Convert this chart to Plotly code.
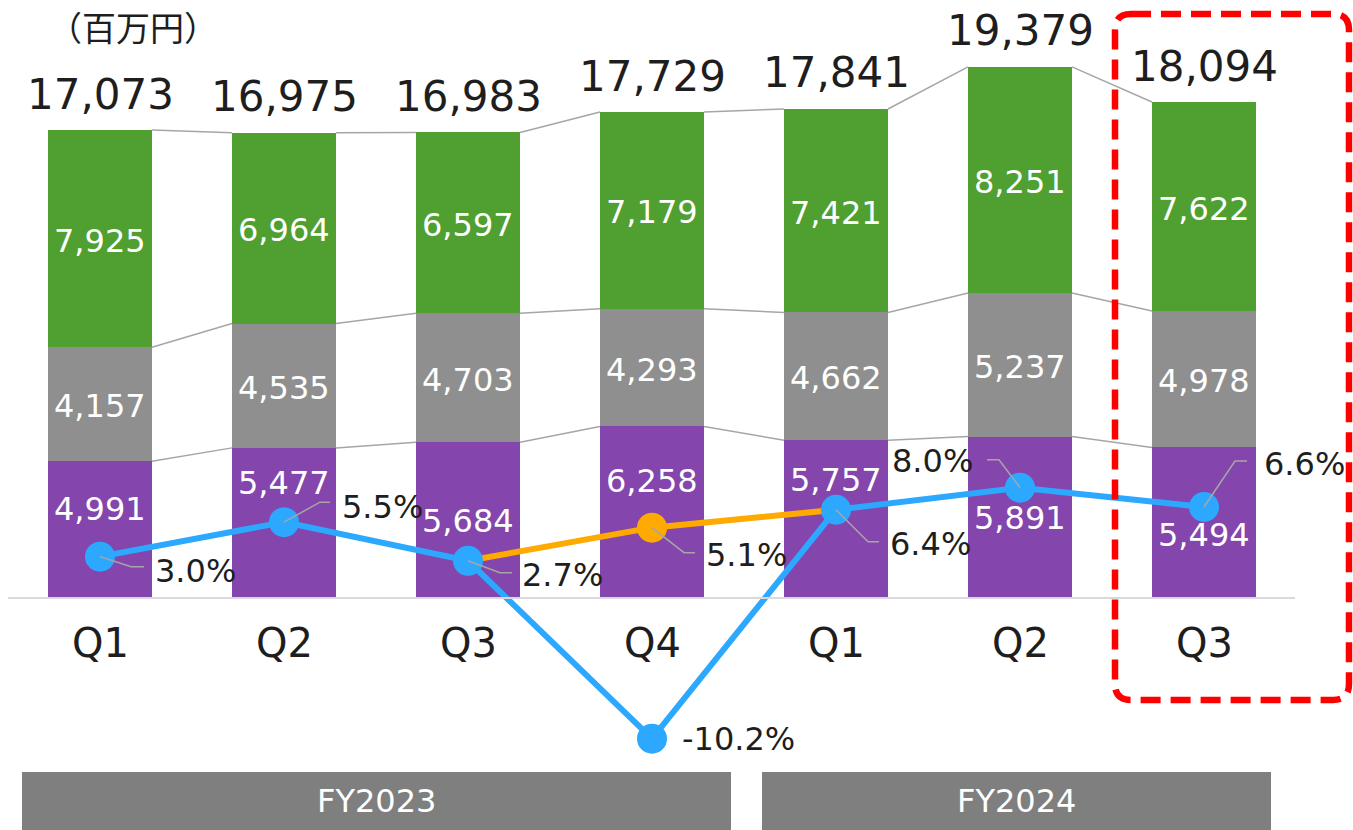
import plotly.graph_objects as go

# ---------------- data ----------------
quarters = ["Q1", "Q2", "Q3", "Q4", "Q1", "Q2", "Q3"]
seg_purple = [4991, 5477, 5684, 6258, 5757, 5891, 5494]
seg_gray = [4157, 4535, 4703, 4293, 4662, 5237, 4978]
seg_green = [7925, 6964, 6597, 7179, 7421, 8251, 7622]
totals = [17073, 16975, 16983, 17729, 17841, 19379, 18094]
margin_pct = [3.0, 5.5, 2.7, -10.2, 6.4, 8.0, 6.6]
adj_idx = [2, 3, 4]
adj_pct = [2.7, 5.1, 6.4]
fiscal_years = ["FY2023", "FY2024"]
unit_label = "（百万円）"

# ---------------- geometry (layout only) ----------------
W, H = 1353, 830
BASE_PX = 598          # pixel row of value 0
K = 0.02741            # px per 百万円
P = 13.79              # px per %
X0_PX, STEP = 100, 184 # first category centre, spacing
BAR_W = 104 / STEP

Y_RANGE = [-(H - BASE_PX) / K, BASE_PX / K]
Y2_RANGE = [-(H - BASE_PX) / P, BASE_PX / P]
X_RANGE = [-X0_PX / STEP, (W - X0_PX) / STEP]

def paper_x(px):
    return px / W

def paper_y(py):
    return 1 - py / H

PURPLE = "#8446AC"
GRAY = "#8F8F8F"
GREEN = "#509F31"
BLUE = "#2CA8FF"
ORANGE = "#FFAA00"
CONN = "#A6A6A6"
TXT = "#1E1E1E"
FONT = "DejaVu Sans"

xs = list(range(len(quarters)))
fig = go.Figure()

for vals, col in [(seg_purple, PURPLE), (seg_gray, GRAY), (seg_green, GREEN)]:
    fig.add_trace(go.Bar(x=xs, y=vals, width=BAR_W, marker=dict(color=col, line=dict(width=0)),
                         hoverinfo="skip", showlegend=False))

# connector lines between stacked segment tops
lvl1 = seg_purple
lvl2 = [a + b for a, b in zip(seg_purple, seg_gray)]
lvl3 = [a + b + c for a, b, c in zip(seg_purple, seg_gray, seg_green)]
cx, cy = [], []
for lvl in (lvl1, lvl2, lvl3):
    for i in range(len(xs) - 1):
        cx += [xs[i] + BAR_W / 2, xs[i + 1] - BAR_W / 2, None]
        cy += [lvl[i], lvl[i + 1], None]
fig.add_trace(go.Scatter(x=cx, y=cy, mode="lines", line=dict(color=CONN, width=1.5),
                         hoverinfo="skip", showlegend=False))

# percentage lines
fig.add_trace(go.Scatter(x=xs, y=margin_pct, yaxis="y2", mode="lines",
                         line=dict(color=BLUE, width=6), hoverinfo="skip", showlegend=False))
fig.add_trace(go.Scatter(x=adj_idx, y=adj_pct, yaxis="y2", mode="lines",
                         line=dict(color=ORANGE, width=6), hoverinfo="skip", showlegend=False))
fig.add_trace(go.Scatter(x=[adj_idx[1]], y=[adj_pct[1]], yaxis="y2", mode="markers",
                         marker=dict(size=30, color=ORANGE, opacity=1, line=dict(width=0)),
                         hoverinfo="skip", showlegend=False))
fig.add_trace(go.Scatter(x=xs, y=margin_pct, yaxis="y2", mode="markers",
                         marker=dict(size=30, color=BLUE, opacity=1, line=dict(width=0)),
                         hoverinfo="skip", showlegend=False))

ann = []
shapes = []

# segment labels
purple_shift = [21, 40, -1, 31, 39, -1, -12]
for i in xs:
    ann.append(dict(x=i, y=seg_purple[i] / 2, text=f"{seg_purple[i]:,}", showarrow=False,
                    yshift=purple_shift[i], font=dict(family=FONT, size=32, color="white")))
    ann.append(dict(x=i, y=lvl1[i] + seg_gray[i] / 2, text=f"{seg_gray[i]:,}", showarrow=False,
                    yshift=-2, font=dict(family=FONT, size=32, color="white")))
    ann.append(dict(x=i, y=lvl2[i] + seg_green[i] / 2, text=f"{seg_green[i]:,}", showarrow=False,
                    yshift=-2, font=dict(family=FONT, size=32, color="white")))
    ann.append(dict(x=i, y=totals[i], text=f"{totals[i]:,}", showarrow=False, yshift=36,
                    font=dict(family=FONT, size=42, color=TXT)))
    ann.append(dict(x=i, y=paper_y(643), yref="paper", yanchor="middle", xanchor="center",
                    text=quarters[i], showarrow=False,
                    font=dict(family=FONT, size=40, color=TXT)))

# percentage labels with leader lines (pixel offsets: elbow, end, text; screen y down)
leaders = [
    (0, margin_pct[0], (31, 10), (44, 10), (53, 14), "left"),
    (1, margin_pct[1], (36, -20), (46, -20), (56, -15), "left"),
    (2, margin_pct[2], (32, 12), (44, 12), (52, 14), "left"),
    (3, adj_pct[1], (32, 25), (43, 25), (52, 27), "left"),
    (4, margin_pct[4], (32, 32), (43, 32), (52, 34), "left"),
    (5, margin_pct[5], (-21, -28), (-33, -28), (-45, -27), "right"),
    (6, margin_pct[6], (31, -46), (43, -46), (58, -43), "left"),
]
for i, v, e1, e2, t, anchor in leaders:
    shapes.append(dict(type="path", xref="x", yref="y2", layer="above",
                       path=(f"M{i},{v} L{i + e1[0] / STEP},{v - e1[1] / P} "
                             f"L{i + e2[0] / STEP},{v - e2[1] / P}"),
                       line=dict(color=CONN, width=1.5)))
    ann.append(dict(x=i, y=v, yref="y2", text=f"{v:.1f}%", showarrow=False,
                    xanchor=anchor, yanchor="middle", xshift=t[0], yshift=-t[1],
                    font=dict(family=FONT, size=32, color=TXT)))
# -10.2% label
ann.append(dict(x=3, y=margin_pct[3], yref="y2", text=f"{margin_pct[3]:.1f}%", showarrow=False,
                xanchor="left", yanchor="middle", xshift=28, yshift=0,
                font=dict(family=FONT, size=32, color=TXT)))

# baseline
shapes.append(dict(type="line", xref="paper", yref="y", x0=paper_x(8), x1=paper_x(1295), y0=0, y1=0,
                   line=dict(color="#D9D9D9", width=2), layer="above"))

# fiscal year bands
fy_spans = [(22, 731), (762, 1271)]
for (a, b), name in zip(fy_spans, fiscal_years):
    shapes.append(dict(type="rect", xref="paper", yref="paper", x0=paper_x(a), x1=paper_x(b),
                       y0=paper_y(830), y1=paper_y(772), fillcolor="#7F7F7F", line=dict(width=0),
                       layer="above"))
    ann.append(dict(x=paper_x((a + b) / 2), y=paper_y(801), xref="paper", yref="paper", text=name,
                    xanchor="center", yanchor="middle",
                    showarrow=False, font=dict(family=FONT, size=32, color="white")))

# red dashed rounded box
bx0, bx1, by0, by1, r = 1115, 1349, 14, 700, 16
pts = lambda x, y: f"{paper_x(x)},{paper_y(y)}"
path = (f"M{pts(bx0 + r, by0)} L{pts(bx1 - r, by0)} Q{pts(bx1, by0)} {pts(bx1, by0 + r)} "
        f"L{pts(bx1, by1 - r)} Q{pts(bx1, by1)} {pts(bx1 - r, by1)} "
        f"L{pts(bx0 + r, by1)} Q{pts(bx0, by1)} {pts(bx0, by1 - r)} "
        f"L{pts(bx0, by0 + r)} Q{pts(bx0, by0)} {pts(bx0 + r, by0)} Z")
shapes.append(dict(type="path", xref="paper", yref="paper", path=path, layer="above",
                   line=dict(color="#FF0000", width=6.5, dash="20px,10px")))

# unit label
ann.append(dict(x=paper_x(133), y=1, xref="paper", yref="paper", text=unit_label,
                xanchor="center", yanchor="top",
                showarrow=False, font=dict(family="Noto Sans CJK JP", size=34, color=TXT)))

fig.update_layout(
    width=W, height=H, margin=dict(l=0, r=0, t=0, b=0),
    paper_bgcolor="white", plot_bgcolor="white",
    barmode="stack", bargap=0,
    xaxis=dict(range=X_RANGE, visible=False, fixedrange=True),
    yaxis=dict(range=Y_RANGE, visible=False, fixedrange=True),
    yaxis2=dict(range=Y2_RANGE, visible=False, overlaying="y", fixedrange=True),
    annotations=ann, shapes=shapes, showlegend=False,
)
fig.write_html("out.html", config={"displayModeBar": False})
